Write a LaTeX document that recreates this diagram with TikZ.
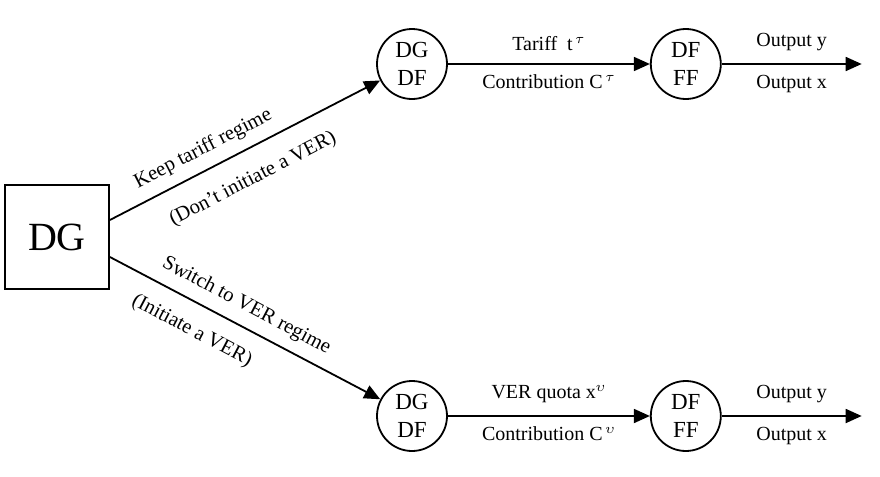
\documentclass[tikz,border=0pt]{standalone}
\usepackage{fontspec}
\setmainfont{Liberation Serif}
\usetikzlibrary{arrows.meta, positioning}

\begin{document}
\begin{tikzpicture}[
    x=0.5pt, y=-0.5pt,
    node distance=101pt,
    player/.style={draw, line width=0.9pt, rectangle, minimum size=52pt, inner sep=0pt, font=\fontsize{20}{23}\selectfont},
    stage/.style={draw, line width=0.9pt, circle, minimum size=35pt, inner sep=0pt, align=center, font=\fontsize{11.5}{14}\selectfont},
    arrow/.style={-{Triangle[length=8pt, width=7pt]}, line width=0.9pt},
    lbl/.style={font=\fontsize{10}{12}\selectfont, inner sep=2pt},
    slbl/.style={font=\fontsize{10.3}{12}\selectfont, inner sep=2pt, sloped}
  ]
  \useasboundingbox (0,0) rectangle (880,477);
  % players and stages
  \node[player] (dg) at (57,237) {DG};
  \node[stage] (pa) at (412,64) {DG\\DF};
  \node[stage, right=of pa] (fa) {DF\\FF};
  \node[stage] (pb) at (412,416) {DG\\DF};
  \node[stage, right=of pb] (fb) {DF\\FF};
  \coordinate[right=70pt of fa] (outa);
  \coordinate[right=70pt of fb] (outb);
  % choice of regime
  \draw[arrow] ([yshift=8.5pt]dg.east) -- node[slbl, above=3pt, pos=0.38]{Keep tariff regime}
    node[slbl, below=7.5pt, pos=0.48]{(Don't initiate a VER)} (pa);
  \draw[arrow] ([yshift=-10pt]dg.east) -- node[slbl, above=3pt, pos=0.47]{Switch to VER regime}
    node[slbl, below=6.5pt, pos=0.35]{(Initiate a VER)} (pb);
  % tariff regime
  \draw[arrow] (pa) -- node[lbl, above=4pt]{Tariff\ \ t$^{\,\tau}$} node[lbl, below=3pt]{Contribution C$^{\,\tau}$} (fa);
  \draw[arrow] (fa) -- node[lbl, above=4pt]{Output y} node[lbl, below=3pt]{Output x} (outa);
  % VER regime
  \draw[arrow] (pb) -- node[lbl, above=4pt]{VER quota x$^{\upsilon}$} node[lbl, below=3pt]{Contribution C$^{\,\upsilon}$} (fb);
  \draw[arrow] (fb) -- node[lbl, above=4pt]{Output y} node[lbl, below=3pt]{Output x} (outb);
\end{tikzpicture}
\end{document}
